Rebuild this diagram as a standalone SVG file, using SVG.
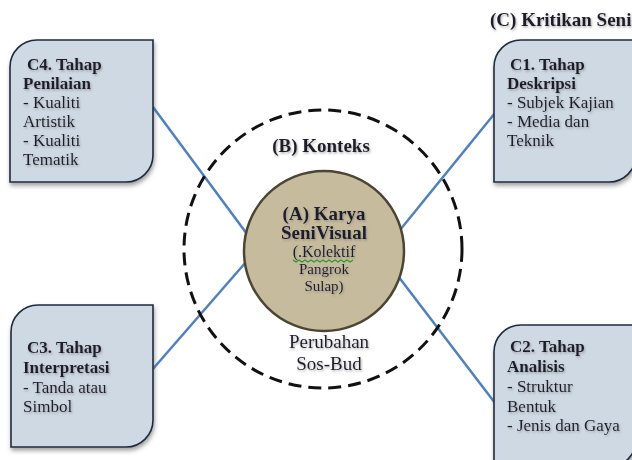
<svg xmlns="http://www.w3.org/2000/svg" width="632" height="460" viewBox="0 0 632 460">
<defs>
<filter id="boxsh" x="-10%" y="-10%" width="130%" height="130%">
<feDropShadow dx="1" dy="3" stdDeviation="2" flood-color="#555" flood-opacity="0.55"/>
</filter>
<filter id="txtsh" x="-10%" y="-30%" width="120%" height="160%">
<feDropShadow dx="1" dy="1.5" stdDeviation="1.2" flood-color="#7a7a7a" flood-opacity="0.6"/>
</filter>
</defs>
<style>
.box{fill:#cfd9e4;stroke:#1f2b40;stroke-width:1.6;}
.t{font-family:"Liberation Serif","Times New Roman",serif;font-size:17px;fill:#1c1c2c;}
.b{font-weight:bold;}
.h{font-family:"Liberation Serif","Times New Roman",serif;font-size:19px;fill:#1c1c2c;}
.c{font-family:"Liberation Serif","Times New Roman",serif;font-size:15px;fill:#1c1c2c;}
.link{stroke:#4f81bd;stroke-width:2.5;fill:none;}
</style>
<rect width="632" height="460" fill="#ffffff"/>
<g id="connectors">
<line class="link" x1="153" y1="107" x2="247" y2="234"/>
<line class="link" x1="495" y1="113" x2="400" y2="230"/>
<line class="link" x1="152" y1="370" x2="246" y2="262"/>
<line class="link" x1="495" y1="403" x2="398" y2="276"/>
</g>
<g id="konteks">
<circle cx="323" cy="249" r="139" fill="none" stroke="#111" stroke-width="3" stroke-dasharray="13 7"/>
<text class="h b" x="321" y="152" text-anchor="middle" filter="url(#txtsh)">(B) Konteks</text>
<text class="h" x="329" y="348" text-anchor="middle" filter="url(#txtsh)">Perubahan</text>
<text class="h" x="329" y="370" text-anchor="middle" filter="url(#txtsh)">Sos-Bud</text>
</g>
<g id="karya">
<circle cx="324" cy="251" r="80" fill="#c6bb9c" stroke="#4a4534" stroke-width="2.5"/>
<text class="h b" x="324" y="220" text-anchor="middle" filter="url(#txtsh)">(A) Karya</text>
<text class="h b" x="324" y="239" text-anchor="middle" filter="url(#txtsh)">SeniVisual</text>
<text class="c" x="324" y="257" text-anchor="middle" style="font-size:16px" filter="url(#txtsh)">(.Kolektif</text>
<path d="M293 260 l3 2 l3 -2 l3 2 l3 -2 l3 2 l3 -2 l3 2 l3 -2 l3 2 l3 -2 l3 2 l3 -2 l3 2 l3 -2 l3 2 l3 -2 l3 2 l3 -2 l3 2 l3 -2" fill="none" stroke="#2a9a2a" stroke-width="1.2"/>
<text class="c" x="324" y="274" text-anchor="middle" filter="url(#txtsh)">Pangrok</text>
<text class="c" x="324" y="291" text-anchor="middle" filter="url(#txtsh)">Sulap)</text>
</g>
<g id="title">
<text class="h b" x="490" y="26" filter="url(#txtsh)">(C) Kritikan Seni</text>
</g>
<g id="c4">
<path class="box" filter="url(#boxsh)" d="M37 40 H153 V155 A27 27 0 0 1 126 182 H10 V67 A27 27 0 0 1 37 40 Z"/>
<g filter="url(#txtsh)">
<text class="t b" x="27" y="70">C4. Tahap</text>
<text class="t b" x="23" y="89">Penilaian</text>
<text class="t" x="23" y="108">- Kualiti</text>
<text class="t" x="23" y="127">Artistik</text>
<text class="t" x="23" y="146">- Kualiti</text>
<text class="t" x="23" y="165">Tematik</text>
</g>
</g>
<g id="c1">
<path class="box" filter="url(#boxsh)" d="M521 40 H636 V155 A27 27 0 0 1 609 182 H494 V67 A27 27 0 0 1 521 40 Z"/>
<g filter="url(#txtsh)">
<text class="t b" x="510" y="70">C1. Tahap</text>
<text class="t b" x="507" y="89">Deskripsi</text>
<text class="t" x="507" y="108">- Subjek Kajian</text>
<text class="t" x="507" y="127">- Media dan</text>
<text class="t" x="507" y="146">Teknik</text>
</g>
</g>
<g id="c3">
<path class="box" filter="url(#boxsh)" d="M38 305 H153 V420 A27 27 0 0 1 126 447 H11 V332 A27 27 0 0 1 38 305 Z"/>
<g filter="url(#txtsh)">
<text class="t b" x="27" y="353">C3. Tahap</text>
<text class="t b" x="23" y="373">Interpretasi</text>
<text class="t" x="23" y="393">- Tanda atau</text>
<text class="t" x="23" y="412">Simbol</text>
</g>
</g>
<g id="c2">
<path class="box" filter="url(#boxsh)" d="M521 325 H636 V440 A27 27 0 0 1 609 467 H494 V352 A27 27 0 0 1 521 325 Z"/>
<g filter="url(#txtsh)">
<text class="t b" x="510" y="352">C2. Tahap</text>
<text class="t b" x="507" y="372">Analisis</text>
<text class="t" x="507" y="392">- Struktur</text>
<text class="t" x="507" y="412">Bentuk</text>
<text class="t" x="507" y="431">- Jenis dan Gaya</text>
</g>
</g>
</svg>
